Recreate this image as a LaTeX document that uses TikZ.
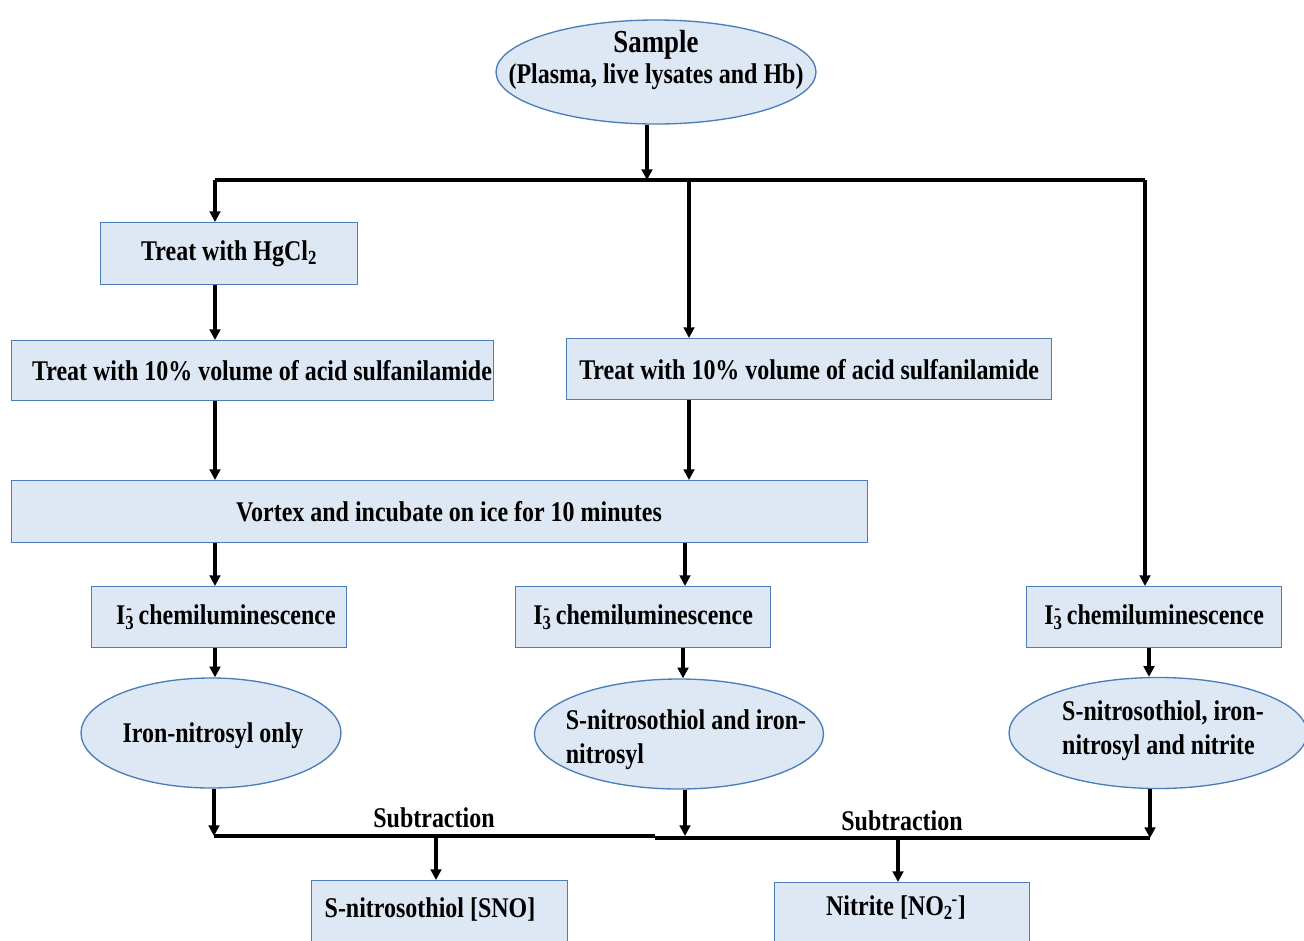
\documentclass[tikz,border=0pt]{standalone}
\usepackage{fontspec}
\setmainfont{Liberation Serif}[FakeStretch=0.84]
\usetikzlibrary{shapes.geometric,arrows.meta}
\definecolor{boxfill}{HTML}{DEE8F4}
\definecolor{boxline}{HTML}{4A7EBB}
\newcommand{\Ithree}{I\textsubscript{3}\kern-0.28em\textsuperscript{-}}
\begin{document}
\begin{tikzpicture}[x=0.75pt,y=-0.75pt,
  txt/.style={font=\bfseries\fontsize{21.4}{25.5}\selectfont, inner sep=0},
  box/.style={draw=boxline, fill=boxfill, line width=1pt, rectangle, inner sep=0, anchor=north west, font=\bfseries\fontsize{21.4}{25.5}\selectfont},
  oval/.style={draw=boxline, fill=boxfill, line width=1pt, ellipse, inner sep=0},
  flow/.style={line width=2.5pt, black},
  arr/.style={flow, -{Triangle[length=8pt,width=8pt]}}]
\clip (0,0) rectangle (1304,940);
\fill[white] (0,0) rectangle (1304,940);

% column coordinates
\coordinate (cA) at (215,0);
\coordinate (cB) at (685,0);
\coordinate (cC) at (689,0);
\coordinate (cR) at (1145,0);
\coordinate (cR2) at (1149,0);
\coordinate (cS) at (436,0);
\coordinate (cN) at (898,0);
\coordinate (cD) at (683,0);

% top ellipse
\node[oval, minimum width=240pt, minimum height=78pt] (sample) at (656,72) {};
\node[txt, align=center, font=\bfseries\fontsize{21.4}{23.5}\selectfont] (samplet) at (656,60) {{\fontsize{24}{26}\selectfont Sample}\\(Plasma, live lysates and Hb)};

% boxes
\node[box, minimum width=192.75pt, minimum height=46.5pt] (hg) at (100,222) {Treat with HgCl\textsubscript{2}};
\node[box, minimum width=361.5pt, minimum height=45pt] (s1) at (11,340) {\hspace{14pt}Treat with 10\% volume of acid sulfanilamide};
\node[box, minimum width=363.75pt, minimum height=45.75pt] (s2) at (566,338) {Treat with 10\% volume of acid sulfanilamide};
\node[box, minimum width=642pt, minimum height=46.5pt] (vx) at (11,480) {\hspace{14pt}Vortex and incubate on ice for 10 minutes};
\node[box, minimum width=191.25pt, minimum height=45.75pt] (i1) at (91,586) {\hspace{10pt}\Ithree\ chemiluminescence};
\node[box, minimum width=191.25pt, minimum height=45.75pt] (i2) at (515,586) {\Ithree\ chemiluminescence};
\node[box, minimum width=191.25pt, minimum height=45.75pt] (i3) at (1026,586) {\Ithree\ chemiluminescence};

% result ellipses
\node[oval, minimum width=195pt, minimum height=82.5pt] (e1) at (211,733) {};
\node[txt] (e1t) at (213,736) {Iron-nitrosyl only};
\node[oval, minimum width=216.75pt, minimum height=82.5pt] (e2) at (679,734) {};
\node[txt, align=left] (e2t) at (686,740) {S-nitrosothiol and iron-\\nitrosyl};
\node[oval, minimum width=223.5pt, minimum height=83.25pt] (e3) at (1158,733) {};
\node[txt, align=left] (e3t) at (1163,731) {S-nitrosothiol, iron-\\nitrosyl and nitrite};

% final boxes
\node[box, minimum width=192pt, minimum height=60pt] (sno) at (311,880) {};
\node[txt] (snot) at (430,909) {S-nitrosothiol [SNO]};
\node[box, minimum width=191.25pt, minimum height=60pt] (nit) at (774,882) {};
\node[txt] (nitt) at (896,908) {Nitrite [NO\textsubscript{2}\kern-0.05em\textsuperscript{-}]};

% junctions
\coordinate (jT) at (647,180);
\coordinate (jL) at (cA |- jT);
\coordinate (jM) at (cC |- jT);
\coordinate (jR) at (cR |- jT);
\coordinate (bL) at (214,836);
\coordinate (bJ) at (655,836);
\coordinate (bJ2) at (655,838);
\coordinate (bR) at (1150,838);

% connectors
\draw[arr] (sample.south -| jT) -- (jT);
\draw[flow] (jL) -- (jR);
\draw[arr] (jL) -- (jL |- hg.north);
\draw[arr] (jM) -- (jM |- s2.north);
\draw[arr] (jR) -- (jR |- i3.north);
\draw[arr] (cA |- hg.south) -- (cA |- s1.north);
\draw[arr] (cA |- s1.south) -- (cA |- vx.north);
\draw[arr] (cC |- s2.south) -- (cC |- vx.north);
\draw[arr] (cA |- vx.south) -- (cA |- i1.north);
\draw[arr] (cB |- vx.south) -- (cB |- i2.north);
\draw[arr] (cA |- i1.south) -- (cA |- e1.north);
\draw[arr] (cD |- i2.south) -- (cD |- e2.north);
\draw[arr] (cR2 |- i3.south) -- (cR2 |- e3.north);

\draw[flow] (bL) -- (bJ);
\draw[flow] (bJ2) -- (bR);
\draw[arr] (e1.south -| bL) -- (bL);
\draw[arr] (e2.south -| cB) -- (cB |- bJ);
\draw[arr] (e3.south -| bR) -- (bR);
\draw[arr] (cS |- bJ) -- (cS |- sno.north);
\draw[arr] (cN |- bR) -- (cN |- nit.north);

\node[txt] (sub1) at (434,818) {Subtraction};
\node[txt] (sub2) at (902,821) {Subtraction};
\end{tikzpicture}
\end{document}
